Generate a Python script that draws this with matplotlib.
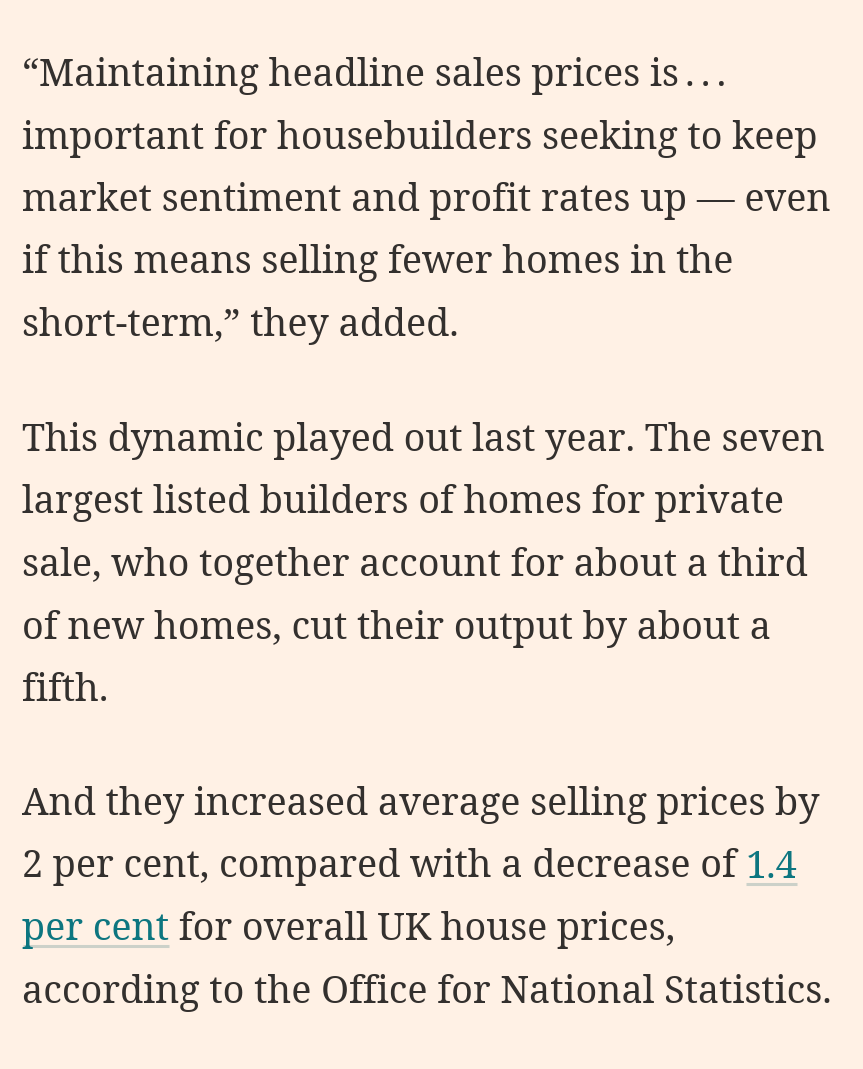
import matplotlib
matplotlib.use("Agg")
from matplotlib import pyplot as plt

BG = "#fff1e5"
INK = "#33302e"
LINK = "#0d7680"
UNDERLINE = "#ccd1c9"

# paragraph text, one entry per rendered line; (text, is_link) segments
para1 = [
    "\u201cMaintaining headline sales prices is\u2009.\u2009.\u2009.",
    "important for housebuilders seeking to keep",
    "market sentiment and profit rates up \u2014 even",
    "if this means selling fewer homes in the",
    "short-term,\u201d they added.",
]
para2 = [
    "This dynamic played out last year. The seven",
    "largest listed builders of homes for private",
    "sale, who together account for about a third",
    "of new homes, cut their output by about a",
    "fifth.",
]
para3 = [
    "And they increased average selling prices by",
    [("2 per cent, compared with a decrease of ", False), ("1.4", True)],
    [("per cent", True), (" for overall UK house prices,", False)],
    "according to the Office for National Statistics.",
]
baselines = [86, 148.5, 211, 273.5, 336,
             451, 513.5, 576, 638.5, 701,
             815, 877.5, 940, 1002.5]

W, H = 863, 1069
LEFT = 22
TARGET = 808  # pixel width of the longest line
FAMILY = ["Noto Serif", "DejaVu Serif"]

fig = plt.figure(figsize=(W / 100, H / 100), dpi=100, facecolor=BG)
ax = fig.add_axes([0, 0, 1, 1])
ax.set_xlim(0, W)
ax.set_ylim(H, 0)
ax.axis("off")
renderer = fig.canvas.get_renderer()

# size the font so the longest line spans the same width as in the source
probe = ax.text(0, 0, para3[-1], fontsize=20, family=FAMILY)
pw = probe.get_window_extent(renderer).width
probe.remove()
fs = 20 * TARGET / pw

lines = []
for p in (para1, para2, para3):
    for ln in p:
        lines.append([(ln, False)] if isinstance(ln, str) else ln)

for segs, y in zip(lines, baselines):
    x = LEFT
    for txt, is_link in segs:
        t = ax.text(x, y, txt, fontsize=fs, family=FAMILY, va="baseline",
                    ha="left", color=LINK if is_link else INK)
        w = t.get_window_extent(renderer).width
        if is_link:
            x0 = x + (fs * 0.02 if txt[0] != " " else 0)
            ax.plot([x0, x + w], [y + 6, y + 6], color=UNDERLINE,
                    lw=2.2, solid_capstyle="butt", zorder=1)
        x += w

fig.savefig("out.png", dpi=100, facecolor=BG)
